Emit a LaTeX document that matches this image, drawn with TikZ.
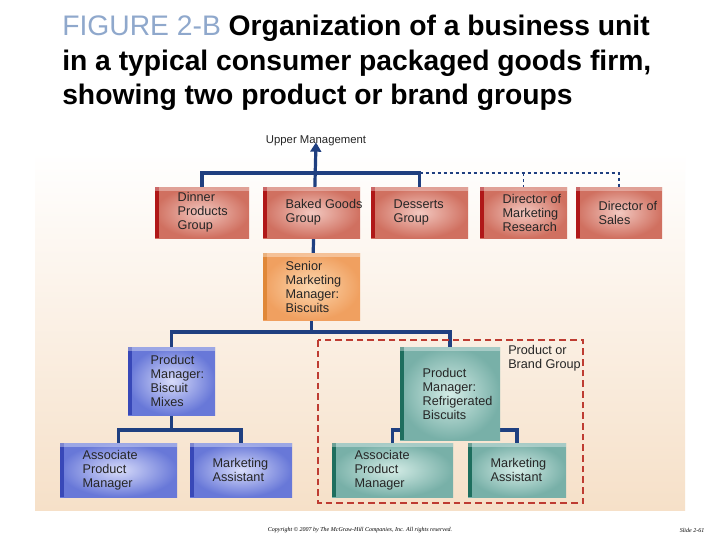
\documentclass[tikz,border=0pt]{standalone}
\usepackage{fontspec}
\setmainfont{Liberation Sans}
\newfontfamily\seriff{Liberation Serif}
\usetikzlibrary{arrows.meta}
\pgfdeclarelayer{bg}\pgfdeclarelayer{lines}\pgfsetlayers{bg,lines,main}
\definecolor{redin}{HTML}{F2C8C0}\definecolor{redout}{HTML}{D07060}\definecolor{reddk}{HTML}{B01818}
\definecolor{orin}{HTML}{FCD8B0}\definecolor{orout}{HTML}{F0A060}\definecolor{ordk}{HTML}{E08838}
\definecolor{bluin}{HTML}{D8DCFA}\definecolor{bluout}{HTML}{6878D8}\definecolor{bludk}{HTML}{3848B8}
\definecolor{tein}{HTML}{D4ECE6}\definecolor{teout}{HTML}{78B0A8}\definecolor{tedk}{HTML}{1E6E5E}
\definecolor{navy}{HTML}{1F3F80}
\definecolor{dashred}{HTML}{BE3C32}
\definecolor{beige}{HTML}{F6E0C8}
\definecolor{titleblue}{HTML}{8FA8CC}
\tikzset{
 bx/.style={inner sep=0pt, shading=radial, inner color=#1in, outer color=#1out},
 lbl/.style={align=left, inner sep=0pt, font=\fontsize{9.5}{10.5}\selectfont, text=black!85},
 conn/.style={draw=navy, line width=2.4pt},
 dconn/.style={draw=navy, line width=0.8pt, dash pattern=on 2.5pt off 2pt},
}
\newcommand\obox[7]{%
 \node[bx=#6, minimum width={(#4-#2)*0.75pt}, minimum height={(#5-#3)*0.75pt}] (#1) at ({(#2+#4)/2},{(#3+#5)/2}) {};
 \fill[#6dk] (#1.north west) rectangle ++(4,{#5-#3});
 \fill[white,opacity=0.35] (#1.north west) rectangle ++({#4-#2},4);
 \node[lbl, anchor=west] (#1t) at ([xshift=17pt]#1.west) {#7};
}
\begin{document}
\begin{tikzpicture}[x=0.75pt,y=-0.75pt]
\useasboundingbox (0,0) rectangle (720,540);
\begin{pgfonlayer}{bg}
\fill[white] (0,0) rectangle (720,540);
\shade[top color=white, bottom color=beige] (35,152) rectangle (685,510);
\end{pgfonlayer}
% title
\node[anchor=west, inner sep=0pt, font=\fontsize{21.2}{23}\selectfont] (t1) at (62,28) {\textcolor{titleblue}{FIGURE 2-B} \textbf{Organization of a business unit}};
\node[anchor=west, inner sep=0pt, font=\fontsize{21.2}{23}\selectfont\bfseries] (t2) at (62,63) {in a typical consumer packaged goods firm,};
\node[anchor=west, inner sep=0pt, font=\fontsize{21.2}{23}\selectfont\bfseries] (t3) at (62,97) {showing two product or brand groups};
% boxes
\obox{din}{155}{187}{249}{238}{red}{Dinner\\Products\\Group}
\obox{bak}{263}{187}{360}{238}{red}{Baked Goods\\Group}
\obox{des}{371}{187}{468}{238}{red}{Desserts\\Group}
\obox{dmr}{480}{187}{567}{238}{red}{Director of\\Marketing\\Research}
\obox{dsa}{576}{187}{662}{238}{red}{Director of\\Sales}
\obox{sen}{263}{253}{360}{320}{or}{Senior\\Marketing\\Manager:\\Biscuits}
\obox{pma}{128}{347}{215}{415}{blu}{Product\\Manager:\\Biscuit\\Mixes}
\obox{apa}{60}{443}{177}{497}{blu}{Associate\\Product\\Manager}
\obox{maa}{190}{443}{292}{497}{blu}{Marketing\\Assistant}
\obox{pmb}{400}{347}{500}{440}{te}{Product\\Manager:\\Refrigerated\\Biscuits}
\obox{apb}{332}{443}{453}{497}{te}{Associate\\Product\\Manager}
\obox{mab}{468}{443}{566}{497}{te}{Marketing\\Assistant}
\node[lbl, font=\fontsize{8.5}{10}\selectfont] (um) at (316,141) {Upper Management};
\node[lbl, anchor=north west] (pbg) at (508,345) {Product or\\Brand Group};
\draw[dashred, line width=1.3pt, dash pattern=on 5pt off 3pt] (318,340) rectangle (583,503);
% connectors
\coordinate (b1) at (0,173); \coordinate (b2) at (0,332); \coordinate (b3) at (0,430);
\begin{pgfonlayer}{lines}
\draw[conn,-{Triangle[length=7pt,width=8pt]}] (sen.south) -- ([yshift=3pt]um.south);
\draw[conn] (din.north) -- (din.north |- b1) -- (des.north |- b1) -- (des.north);
\draw[dconn] (des.north |- b1) -- (dsa.north |- b1) -- (dsa.north);
\draw[dconn] (dmr.north |- b1) -- (dmr.north);
\draw[conn] (sen.south) -- (sen.south |- b2);
\draw[conn] (pma.north) -- (pma.north |- b2) -- (pmb.north |- b2) -- (pmb.north);
\draw[conn] (pma.south) -- (pma.south |- b3);
\draw[conn] (apa.north) -- (apa.north |- b3) -- (maa.north |- b3) -- (maa.north);
\draw[conn] (pmb.south) -- (pmb.south |- b3);
\draw[conn] (apb.north) -- (apb.north |- b3) -- (mab.north |- b3) -- (mab.north);
\end{pgfonlayer}
% footer
\node[inner sep=0pt, font=\seriff\itshape\fontsize{4.5}{5}\selectfont] (cp) at (360,530) {Copyright © 2007 by The McGraw-Hill Companies, Inc. All rights reserved.};
\node[inner sep=0pt, font=\seriff\itshape\fontsize{4.5}{5}\selectfont] (sl) at (692,530) {Slide 2-61};
\end{tikzpicture}
\end{document}
